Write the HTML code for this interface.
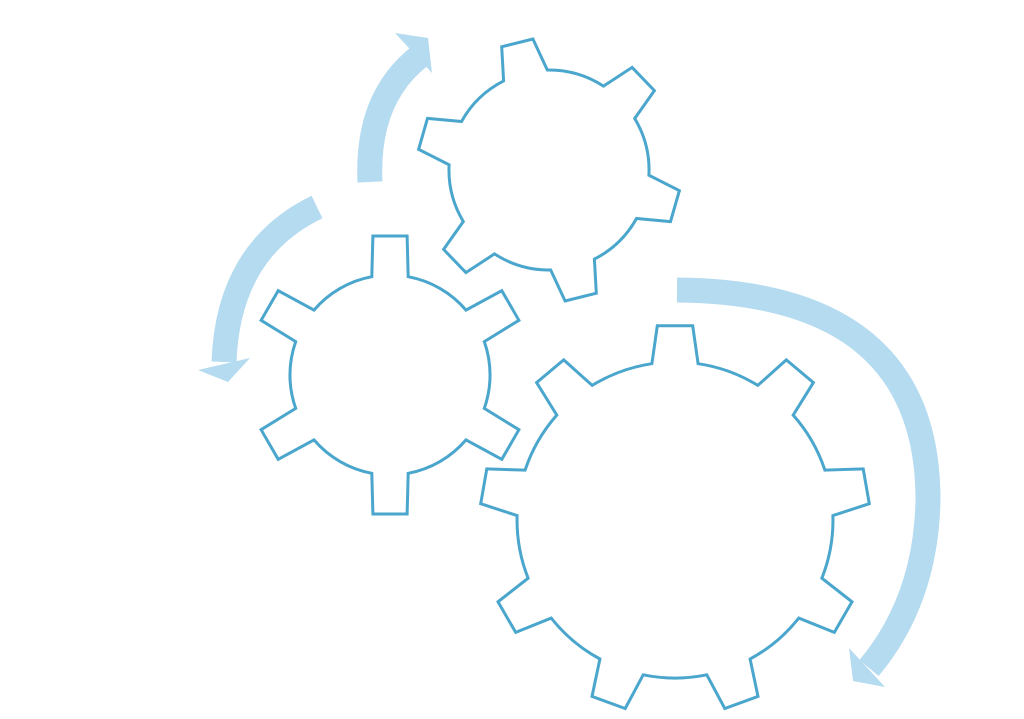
<!DOCTYPE html>
<html><head><meta charset="utf-8"><style>
html,body{margin:0;padding:0;background:#fff;width:1024px;height:719px;overflow:hidden}
svg{display:block}
text{font-family:"Liberation Sans",sans-serif;fill:#fff;text-anchor:middle}
</style></head><body>
<svg id="s" width="1024" height="719" viewBox="0 0 1024 719">
<g fill="none" stroke="#b5dbf0" stroke-width="25">
<path d="M370 182 Q366 98 420 56"/>
<path d="M317 207 Q228 250 224 362"/>
<path d="M677 290 Q928 292 928 500 Q926 600 869 668"/>
</g>
<g fill="#b5dbf0">
<polygon points="395,33 428,38 432,73"/>
<polygon points="198,370 250,358 228,382"/>
<polygon points="849,648 885,687 853,681"/>
</g>
<g id="gears" fill="#fff" stroke="#4aa6cc" stroke-width="3" stroke-linejoin="miter"></g>
<text x="548" y="162" font-size="20">Quick</text>
<text x="548" y="190" font-size="20">Calculation</text>
<text x="390" y="352" font-size="20">Short &amp;</text>
<text x="390" y="380" font-size="20">Smart</text>
<text x="390" y="408" font-size="20">Tricks</text>
<text x="675" y="530" font-size="30">Vedic Maths</text>
</svg>
<script>
function gear(cx,cy,ri,ro,n,start,hwo,hwi){
  var d="",step=360/n,r=Math.PI/180;
  function p(a,R){return (cx+R*Math.cos(a*r)).toFixed(1)+","+(cy-R*Math.sin(a*r)).toFixed(1);}
  for(var i=0;i<n;i++){
    var a=start-i*step;
    d+=(i==0?"M":"L")+p(a+hwi,ri)+" L"+p(a+hwo,ro)+" L"+p(a-hwo,ro)+" L"+p(a-hwi,ri)+" ";
    var nx=a-step+hwi;
    d+="A"+ri+","+ri+" 0 0 1 "+p(nx,ri)+" ";
  }
  return d+"Z";
}
var g=document.getElementById("gears"),ns="http://www.w3.org/2000/svg";
[[549,170,100,132,6,104,7,13],[390,375,100,140,6,90,7,10.5],[675,520,158,195,9,90,5.2,8.4]].forEach(function(a){
  var e=document.createElementNS(ns,"path");e.setAttribute("d",gear.apply(null,a));g.appendChild(e);
});
var t=document.querySelectorAll("text");t.forEach(function(x){document.getElementById("s").appendChild(x);});
</script>
</body></html>
